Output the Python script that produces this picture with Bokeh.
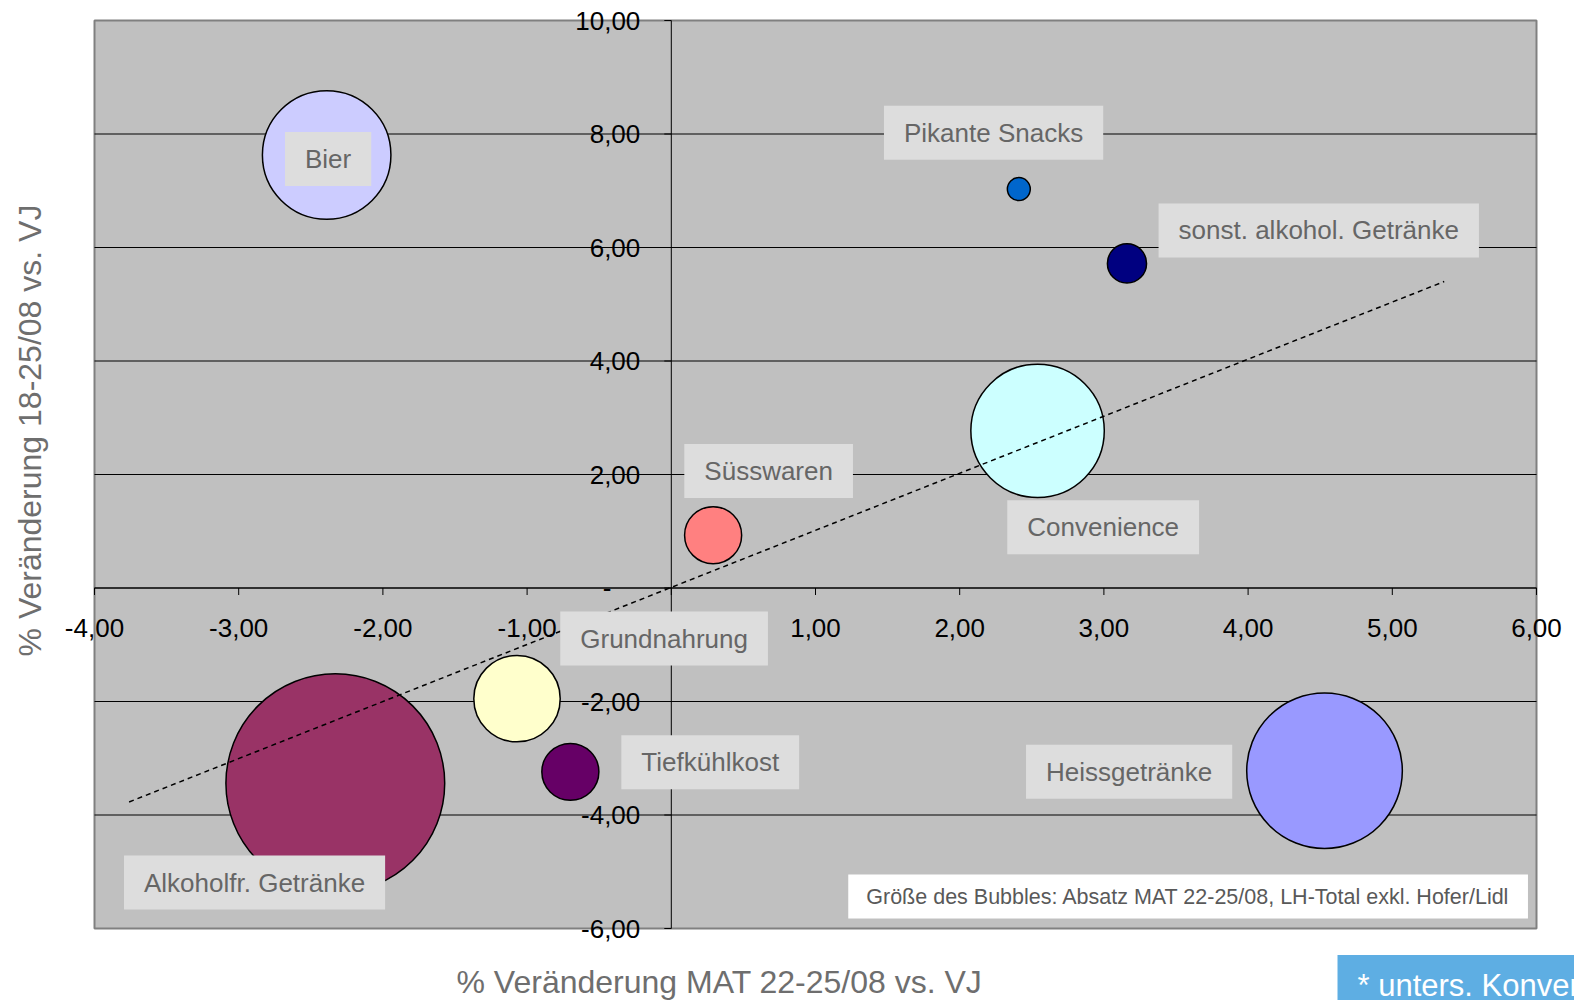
import math
from bokeh.plotting import figure
from bokeh.models import Label, LabelSet, ColumnDataSource, Range1d
from bokeh.core.properties import value
from bokeh.embed import file_html
from bokeh.resources import INLINE

# ---------------- data ----------------
categories = ["Bier", "Pikante Snacks", "sonst. alkohol. Getränke", "Convenience", "Süsswaren",
              "Grundnahrung", "Tiefkühlkost", "Alkoholfr. Getränke", "Heissgetränke"]
x_change = [-2.39, 2.41, 3.16, 2.54, 0.29, -1.07, -0.70, -2.33, 4.53]   # % Veränderung MAT 22-25/08 vs. VJ
y_change = [7.63, 7.03, 5.72, 2.77, 0.93, -1.95, -3.24, -3.44, -3.22]   # % Veränderung 18-25/08 vs. VJ
absatz = [34.5, 1.1, 3.2, 37.2, 6.8, 15.6, 6.8, 100.0, 50.6]             # relative Absatz (bubble size)
colors = ["#CCCCFF", "#0066CC", "#000080", "#CCFFFF", "#FF8080",
          "#FFFFCC", "#660066", "#993366", "#9999FF"]

trend_x = [-3.76, 5.36]
trend_y = [-3.77, 5.40]

x_min, x_max = -4, 6
y_min, y_max = -6, 10
x_ticks = [-4, -3, -2, -1, 0, 1, 2, 3, 4, 5, 6]
x_tick_labels = ["-4,00", "-3,00", "-2,00", "-1,00", "-", "1,00", "2,00", "3,00", "4,00", "5,00", "6,00"]
y_ticks = [-6, -4, -2, 0, 2, 4, 6, 8, 10]
y_tick_labels = ["-6,00", "-4,00", "-2,00", "-", "2,00", "4,00", "6,00", "8,00", "10,00"]

x_title = "% Veränderung MAT 22-25/08 vs. VJ"
y_title = "% Veränderung 18-25/08 vs. VJ"
footnote = "Größe des Bubbles: Absatz MAT 22-25/08, LH-Total exkl. Hofer/Lidl"
corner_note = "* unters. Konvenienz"

# ---------------- layout (label anchor positions, in data coords) ----------------
label_pos = {
    "Bier": (-2.38, 7.56),
    "Pikante Snacks": (2.235, 8.02),
    "sonst. alkohol. Getränke": (4.49, 6.30),
    "Convenience": (2.995, 1.07),
    "Süsswaren": (0.675, 2.06),
    "Grundnahrung": (-0.05, -0.89),
    "Tiefkühlkost": (0.27, -3.07),
    "Alkoholfr. Getränke": (-2.89, -5.19),
    "Heissgetränke": (3.175, -3.24),
}

FONT = "Liberation Sans"
MAX_R = 109.4  # px radius of the largest bubble

W, H = 1574, 1000
# plot box in canvas pixels
PL, PR, PT, PB = 94, 1536, 20, 928
xs = (PR - PL) / (x_max - x_min)
ys = (PB - PT) / (y_max - y_min)
xr = Range1d(x_min - PL / xs, x_max + (W - PR) / xs)
yr = Range1d(y_min - (H - PB) / ys, y_max + PT / ys)

p = figure(width=W, height=H, x_range=xr, y_range=yr,
           x_axis_type=None, y_axis_type=None, toolbar_location=None, output_backend="svg",
           min_border=0)
p.background_fill_color = "white"
p.border_fill_color = "white"
p.outline_line_color = None
p.grid.visible = False

# plot area
p.quad(left=[x_min], right=[x_max], bottom=[y_min], top=[y_max],
       fill_color="#C0C0C0", line_color="#808080", line_width=2)
# horizontal gridlines
p.segment(x0=[x_min] * len(y_ticks[1:-1]), x1=[x_max] * len(y_ticks[1:-1]),
          y0=y_ticks[1:-1], y1=y_ticks[1:-1], line_color="black", line_width=1)
# axes through the origin
p.segment(x0=[0, x_min], x1=[0, x_max], y0=[y_min, 0], y1=[y_max, 0], line_color="black", line_width=1)

# tick marks
p.ray(x=[0] * len(y_ticks), y=y_ticks, length=7, length_units="screen", angle=math.pi,
      line_color="black", line_width=1)
p.ray(x=x_ticks, y=[0] * len(x_ticks), length=7, length_units="screen", angle=-math.pi / 2,
      line_color="black", line_width=1)

# bubbles
sizes = [2 * MAX_R * math.sqrt(a / max(absatz)) for a in absatz]
src = ColumnDataSource(dict(x=x_change, y=y_change, size=sizes, color=colors, name=categories))
p.scatter("x", "y", size="size", fill_color="color", line_color="black", line_width=1.5, source=src)

# trend line
p.line(trend_x, trend_y, line_color="black", line_width=1.5, line_dash="5 4")

# tick labels
ysrc = ColumnDataSource(dict(x=[0] * len(y_ticks), y=y_ticks, t=y_tick_labels,
                             xo=[-60 if t == "-" else -31 for t in y_tick_labels]))
p.add_layout(LabelSet(x="x", y="y", text="t", source=ysrc, x_offset="xo", text_align="right",
                      text_baseline="middle", text_font=value(FONT), text_font_size="26px",
                      text_color="black"))
xsrc = ColumnDataSource(dict(x=x_ticks, y=[0] * len(x_ticks), t=x_tick_labels))
p.add_layout(LabelSet(x="x", y="y", text="t", source=xsrc, y_offset=-40, text_align="center",
                      text_baseline="middle", text_font=value(FONT), text_font_size="26px",
                      text_color="black"))

# category labels
for name in categories:
    lx, ly = label_pos[name]
    p.add_layout(Label(x=lx, y=ly, text=name, text_align="center", text_baseline="middle",
                       text_font=FONT, text_font_size="26px", text_color="#666666",
                       background_fill_color="#DDDDDD", background_fill_alpha=1.0,
                       padding=dict(left=20, right=20, top=12, bottom=12)))

# footnote
p.add_layout(Label(x=3.584, y=-5.437, text=footnote, text_align="center", text_baseline="middle",
                   text_font=FONT, text_font_size="21.5px", text_color="#595959",
                   background_fill_color="white", background_fill_alpha=1.0,
                   padding=dict(left=18, right=18, top=10, bottom=10)))

# axis titles
p.add_layout(Label(x=0.334, y=-6.934, text=x_title, text_align="center", text_baseline="middle",
                   text_font=FONT, text_font_size="32px", text_color="#6E6E6E"))
p.add_layout(Label(x=-4.444, y=2.775, text=y_title, text_align="center", text_baseline="middle",
                   angle=math.pi / 2, text_font=FONT, text_font_size="32px", text_color="#6E6E6E"))

# corner note
p.add_layout(Label(x=4.62, y=-7.004, text=corner_note, text_align="left", text_baseline="middle",
                   text_font=FONT, text_font_size="31px", text_color="white",
                   background_fill_color="#5EAEE3", background_fill_alpha=1.0,
                   padding=dict(left=20, right=20, top=13, bottom=13)))

open("out.html", "w").write(file_html(p, INLINE))
